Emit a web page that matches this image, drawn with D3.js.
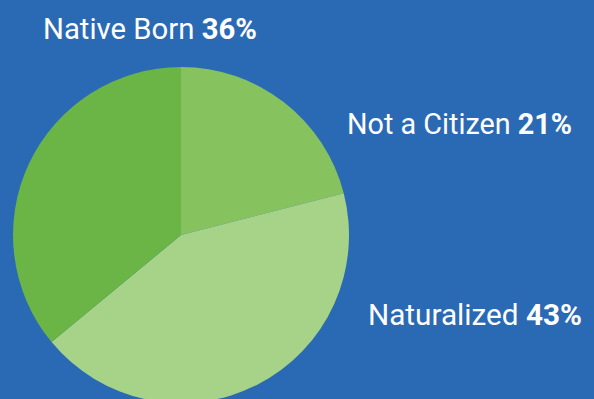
<!DOCTYPE html>
<html>
<head>
<meta charset="utf-8">
<style>
    body { margin: 0; background: #2a6ab4; }
    svg { display: block; }
    .label { font-family: Roboto, 'Open Sans', sans-serif; fill: #ffffff; }
</style>
</head>
<body>
<svg width="594" height="399"></svg>
<script src="https://d3js.org/d3.v7.min.js"></script>
<script>
    // data
    let categories = ["Not a Citizen", "Naturalized", "Native Born"];
    let shares = [21, 43, 36];
    let colors = ["#86c35e", "#a6d387", "#6ab545"];

    let width = 594;
    let height = 399;
    let cx = 181, cy = 235, radius = 168;

    // label anchors (left x, baseline y) and target widths
    let labelPos = [
        { x: 347, y: 134, w: 225 },
        { x: 368, y: 325, w: 214 },
        { x: 43, y: 39, w: 214 }
    ];

    let svg = d3.select("svg");

    svg.append("rect")
        .attr("width", width)
        .attr("height", height)
        .attr("fill", "#2a6ab4");

    let pie = d3.pie().sort(null).value(d => d);
    let arc = d3.arc().innerRadius(0).outerRadius(radius);

    let g = svg.append("g")
        .attr("transform", `translate(${cx},${cy})`);

    g.selectAll("path")
        .data(pie(shares))
        .join("path")
        .attr("d", arc)
        .attr("fill", (d, i) => colors[i]);

    categories.forEach(function (name, i) {
        let t = svg.append("text")
            .attr("class", "label")
            .attr("x", labelPos[i].x)
            .attr("y", labelPos[i].y)
            .attr("font-size", "29px");
        t.append("tspan").text(name + " ");
        t.append("tspan").attr("font-weight", "bold").text(shares[i] + "%");
        t.attr("textLength", labelPos[i].w)
            .attr("lengthAdjust", "spacingAndGlyphs");
    });
</script>
</body>
</html>
